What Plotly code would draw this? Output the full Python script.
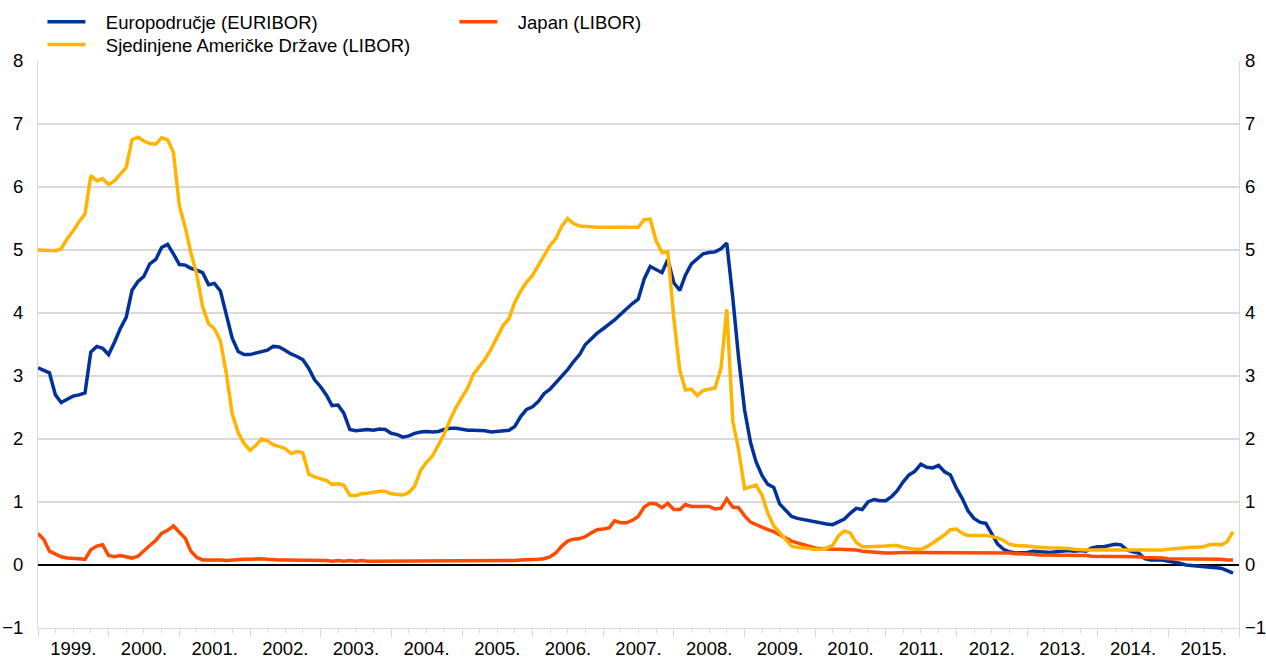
import pandas as pd
import plotly.graph_objects as go

months = pd.date_range("1999-01-01", "2015-12-01", freq="MS")

euro = [
    3.13, 3.09, 3.05, 2.70, 2.58, 2.63, 2.68, 2.70, 2.73, 3.38, 3.47, 3.44,
    3.34, 3.54, 3.75, 3.93, 4.36, 4.50, 4.58, 4.78, 4.85, 5.04, 5.09, 4.94,
    4.77, 4.76, 4.71, 4.68, 4.64, 4.45, 4.47, 4.35, 3.98, 3.60, 3.39, 3.34,
    3.34, 3.36, 3.39, 3.41, 3.47, 3.46, 3.41, 3.35, 3.31, 3.26, 3.12, 2.94,
    2.83, 2.69, 2.53, 2.54, 2.41, 2.15, 2.13, 2.14, 2.15, 2.14, 2.16, 2.15,
    2.09, 2.07, 2.03, 2.05, 2.09, 2.11, 2.12, 2.11, 2.12, 2.15, 2.17, 2.17,
    2.15, 2.14, 2.14, 2.14, 2.13, 2.11, 2.12, 2.13, 2.14, 2.20, 2.36, 2.47,
    2.51, 2.60, 2.72, 2.79, 2.89, 2.99, 3.10, 3.23, 3.34, 3.50, 3.60, 3.68,
    3.75, 3.82, 3.89, 3.98, 4.07, 4.15, 4.22, 4.54, 4.74, 4.69, 4.64, 4.85,
    4.48, 4.36, 4.60, 4.78, 4.86, 4.94, 4.96, 4.97, 5.02, 5.11, 4.24, 3.29,
    2.46, 1.94, 1.64, 1.42, 1.28, 1.23, 0.97, 0.86, 0.77, 0.74, 0.72, 0.71,
    0.68, 0.66, 0.65, 0.64, 0.69, 0.73, 0.82, 0.90, 0.88, 1.00, 1.04, 1.02,
    1.02, 1.09, 1.18, 1.32, 1.43, 1.49, 1.60, 1.55, 1.54, 1.58, 1.48, 1.43,
    1.22, 1.05, 0.86, 0.74, 0.68, 0.66, 0.50, 0.33, 0.25, 0.21, 0.19, 0.19,
    0.20, 0.22, 0.21, 0.21, 0.20, 0.21, 0.22, 0.23, 0.22, 0.23, 0.22, 0.27,
    0.29, 0.29, 0.31, 0.33, 0.32, 0.24, 0.21, 0.19, 0.10, 0.08, 0.08, 0.08,
    0.06, 0.05, 0.03, 0.00, -0.01, -0.01, -0.02, -0.03, -0.04, -0.05, -0.09, -0.13,
]

japan = [
    0.50, 0.40, 0.22, 0.17, 0.13, 0.11, 0.11, 0.10, 0.09, 0.24, 0.30, 0.32,
    0.15, 0.13, 0.15, 0.13, 0.11, 0.14, 0.23, 0.31, 0.39, 0.50, 0.55, 0.62,
    0.52, 0.42, 0.22, 0.12, 0.08, 0.08, 0.09, 0.08, 0.07, 0.08, 0.09, 0.09,
    0.09, 0.10, 0.10, 0.09, 0.08, 0.08, 0.08, 0.08, 0.07, 0.07, 0.07, 0.07,
    0.07, 0.07, 0.06, 0.07, 0.06, 0.07, 0.06, 0.07, 0.06, 0.06, 0.06, 0.06,
    0.06, 0.06, 0.06, 0.06, 0.06, 0.06, 0.06, 0.06, 0.06, 0.06, 0.06, 0.06,
    0.06, 0.06, 0.06, 0.06, 0.06, 0.06, 0.06, 0.06, 0.07, 0.07, 0.08, 0.08,
    0.08, 0.09, 0.10, 0.13, 0.19, 0.30, 0.38, 0.41, 0.42, 0.45, 0.51, 0.56,
    0.57, 0.59, 0.70, 0.67, 0.67, 0.71, 0.77, 0.92, 0.98, 0.97, 0.91, 0.98,
    0.88, 0.88, 0.96, 0.93, 0.93, 0.93, 0.93, 0.89, 0.90, 1.05, 0.92, 0.91,
    0.78, 0.68, 0.64, 0.60, 0.56, 0.53, 0.48, 0.44, 0.38, 0.35, 0.32, 0.29,
    0.27, 0.26, 0.25, 0.25, 0.25, 0.25, 0.25, 0.24, 0.22, 0.21, 0.20, 0.19,
    0.19, 0.19, 0.20, 0.20, 0.20, 0.20, 0.20, 0.20, 0.20, 0.20, 0.20, 0.20,
    0.20, 0.20, 0.20, 0.20, 0.20, 0.20, 0.20, 0.19, 0.19, 0.19, 0.18, 0.18,
    0.17, 0.17, 0.16, 0.16, 0.16, 0.16, 0.16, 0.15, 0.15, 0.15, 0.15, 0.14,
    0.14, 0.14, 0.14, 0.14, 0.13, 0.13, 0.13, 0.13, 0.12, 0.12, 0.11, 0.11,
    0.10, 0.10, 0.10, 0.10, 0.10, 0.10, 0.10, 0.09, 0.09, 0.09, 0.08, 0.08,
]

usa = [
    5.00, 5.00, 5.00, 4.99, 5.02, 5.18, 5.30, 5.45, 5.57, 6.18, 6.10, 6.13,
    6.04, 6.10, 6.20, 6.31, 6.75, 6.79, 6.73, 6.69, 6.68, 6.78, 6.75, 6.55,
    5.70, 5.35, 4.96, 4.61, 4.10, 3.83, 3.75, 3.56, 3.03, 2.40, 2.10, 1.93,
    1.82, 1.90, 2.00, 1.97, 1.91, 1.88, 1.85, 1.77, 1.80, 1.78, 1.44, 1.40,
    1.37, 1.34, 1.28, 1.29, 1.27, 1.11, 1.10, 1.13, 1.14, 1.16, 1.17, 1.17,
    1.13, 1.12, 1.11, 1.15, 1.25, 1.50, 1.63, 1.73, 1.90, 2.08, 2.31, 2.50,
    2.66, 2.82, 3.03, 3.15, 3.27, 3.43, 3.61, 3.80, 3.91, 4.17, 4.35, 4.49,
    4.60, 4.76, 4.92, 5.07, 5.18, 5.38, 5.50, 5.42, 5.38, 5.37, 5.37, 5.36,
    5.36, 5.36, 5.35, 5.35, 5.36, 5.36, 5.36, 5.48, 5.49, 5.15, 4.96, 4.97,
    3.92, 3.09, 2.78, 2.79, 2.69, 2.77, 2.79, 2.81, 3.12, 4.06, 2.28, 1.83,
    1.21, 1.24, 1.27, 1.11, 0.82, 0.62, 0.52, 0.42, 0.30, 0.28, 0.27, 0.25,
    0.25, 0.25, 0.27, 0.31, 0.46, 0.54, 0.51, 0.36, 0.29, 0.29, 0.29, 0.30,
    0.30, 0.31, 0.31, 0.28, 0.26, 0.25, 0.25, 0.29, 0.35, 0.41, 0.48, 0.56,
    0.57, 0.50, 0.47, 0.47, 0.47, 0.47, 0.45, 0.43, 0.39, 0.33, 0.31, 0.31,
    0.30, 0.29, 0.28, 0.28, 0.27, 0.27, 0.27, 0.26, 0.25, 0.24, 0.24, 0.24,
    0.24, 0.24, 0.23, 0.23, 0.23, 0.23, 0.23, 0.24, 0.24, 0.23, 0.23, 0.24,
    0.25, 0.26, 0.27, 0.28, 0.28, 0.28, 0.29, 0.32, 0.33, 0.32, 0.37, 0.53,
]

names = ["Europodručje (EURIBOR)", "Japan (LIBOR)", "Sjedinjene Američke Države (LIBOR)"]
colors = ["#003299", "#FF4B00", "#FFB400"]

FONT = "Liberation Sans, Arial, sans-serif"
GRID = "#d9d9d9"
FS = 18.5
LW = 3.5
PAD = "\u00a0\u00a0\u00a0"

fig = go.Figure()
fig.add_trace(go.Scatter(x=months, y=euro, name=PAD + names[0], mode="lines",
                         line=dict(color=colors[0], width=LW), legend="legend"))
fig.add_trace(go.Scatter(x=months, y=japan, name=PAD + names[1], mode="lines",
                         line=dict(color=colors[1], width=LW), legend="legend2"))
fig.add_trace(go.Scatter(x=months, y=usa, name=PAD + names[2], mode="lines",
                         line=dict(color=colors[2], width=LW), legend="legend3",
                         yaxis="y2"))

leg_common = dict(xanchor="left", yanchor="top", orientation="v",
                  bgcolor="rgba(0,0,0,0)", font=dict(family=FONT, size=FS),
                  itemwidth=38)

fig.update_layout(
    width=1266, height=660,
    margin=dict(l=38, r=27, t=61, b=32, autoexpand=False),
    paper_bgcolor="white", plot_bgcolor="white",
    font=dict(family=FONT, size=FS, color="black"),
    showlegend=True,
    legend=dict(x=0.0037, y=1.102, **leg_common),
    legend2=dict(x=0.3467, y=1.102, **leg_common),
    legend3=dict(x=0.0037, y=1.0617, **leg_common),
    xaxis=dict(
        type="date", range=["1999-01-01", "2016-01-01"],
        dtick="M12", tick0="1999-01-01", tickformat="%Y.",
        ticklabelmode="period", ticks="outside", ticklen=8,
        tickcolor=GRID, showgrid=False, showline=True, linecolor=GRID,
        linewidth=1, zeroline=False, tickfont=dict(size=FS),
        automargin=False, ticklabelstandoff=-4,
        minor=dict(dtick="M3", ticks="outside", ticklen=4, tickcolor=GRID,
                   showgrid=False),
    ),
    yaxis=dict(
        range=[-1, 8], dtick=1, showgrid=True, gridcolor=GRID, gridwidth=1.5,
        zeroline=True, zerolinecolor="black", zerolinewidth=1.5,
        showline=True, linecolor=GRID, linewidth=1, mirror=True,
        ticks="", tickfont=dict(size=FS), automargin=False,
        ticklabelstandoff=10,
    ),
    yaxis2=dict(
        range=[-1, 8], dtick=1, overlaying="y", side="right",
        showgrid=False, zeroline=False, showline=False, ticks="",
        tickfont=dict(size=FS), automargin=False, ticklabelstandoff=5,
    ),
)

fig.write_html(
    "out.html",
    config={"displayModeBar": False},
    post_script="document.body.style.margin='0';document.body.style.overflow='hidden';",
)
